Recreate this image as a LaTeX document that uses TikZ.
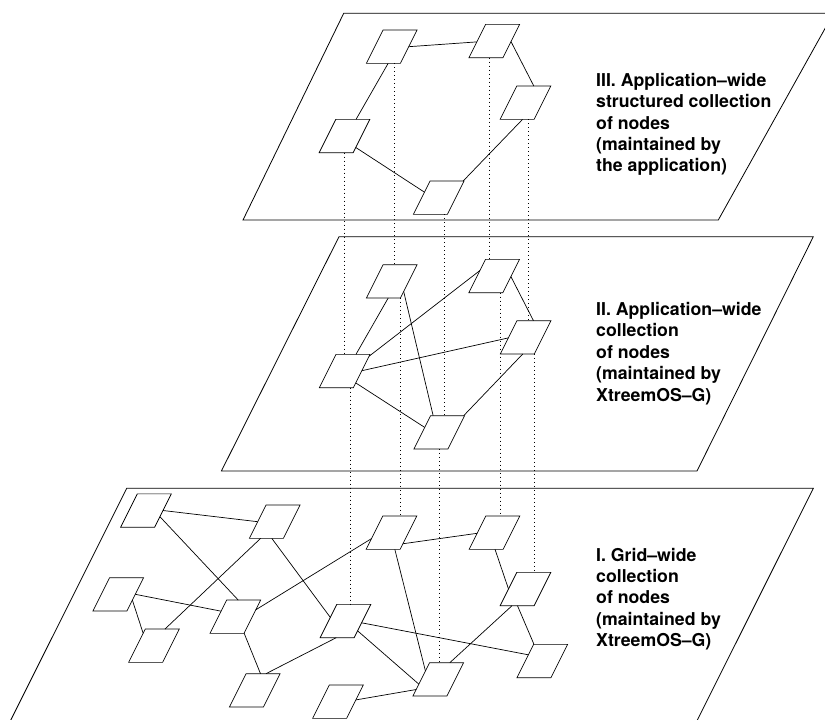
\documentclass[tikz,border=0pt]{standalone}
\usepackage{fontspec}
\setmainfont{TeX Gyre Heros}
\begin{document}
\begin{tikzpicture}[x=1pt,y=-1pt,
  plane/.style={draw, line width=0.8pt, line join=miter},
  gnode/.style={draw, line width=0.7pt, xslant=0.5, minimum width=34pt, minimum height=33.3pt, inner sep=0pt, outer sep=0pt},
  edge/.style={line width=0.7pt},
  vdot/.style={line width=0.7pt, dash pattern=on 0.7pt off 3.3pt},
  lbl/.style={anchor=west, align=left, font=\bfseries\fontsize{17.7}{21.4}\selectfont, inner sep=0pt}]
\useasboundingbox (0,0) rectangle (825,720);

% planes
\draw[plane] (243,220) -- (718.3,220) -- (833.5,13.3) -- (343.7,13.3) -- cycle;
\draw[plane] (221.4,471) -- (697,471) -- (813.3,236.7) -- (339,236.7) -- cycle;
\draw[plane] (8.8,724) -- (126.7,488.3) -- (813.3,488.3) -- (695.4,724);

% plane III nodes
\node[gnode] (a3) at (391.7,46.7) {};
\node[gnode] (b3) at (494.3,41) {};
\node[gnode] (c3) at (525.5,102.7) {};
\node[gnode] (d3) at (344.5,136) {};
\node[gnode] (e3) at (438.7,197.7) {};
% plane II nodes
\node[gnode] (a2) at (391.8,281.3) {};
\node[gnode] (b2) at (494.2,276) {};
\node[gnode] (c2) at (525.7,337.3) {};
\node[gnode] (d2) at (344.7,371) {};
\node[gnode] (e2) at (439.3,432.3) {};
% plane I nodes
\node[gnode] (n1) at (146,510.5) {};
\node[gnode] (n2) at (274.7,521.7) {};
\node[gnode] (n3) at (118.3,594.3) {};
\node[gnode] (n4) at (154,645.7) {};
\node[gnode] (n5) at (235.3,616.7) {};
\node[gnode] (n6) at (345.5,621) {};
\node[gnode] (n7) at (254.8,690.3) {};
\node[gnode] (n8) at (338,701.7) {};
\node[gnode] (n9) at (391.5,532.7) {};
\node[gnode] (n10) at (494.5,532.7) {};
\node[gnode] (n11) at (525.5,589) {};
\node[gnode] (n12) at (542.3,661) {};
\node[gnode] (n13) at (438.3,679.3) {};

% edges plane III
\draw[edge] (a3.0) -- (b3.183);
\draw[edge] (b3.-2) -- (c3.90);
\draw[edge] (c3.-72) -- (e3.46);
\draw[edge] (e3.162) -- (d3.-34);
\draw[edge] (d3.79) -- (a3.-74);
% edges plane II
\draw[edge] (a2.-74) -- (d2.80);
\draw[edge] (d2.41) -- (b2.162);
\draw[edge] (d2.1) -- (c2.182);
\draw[edge] (d2.-35) -- (e2.164);
\draw[edge] (a2.-31) -- (e2.131);
\draw[edge] (b2.-2) -- (c2.92);
\draw[edge] (c2.-72) -- (e2.46);
% edges plane I
\draw[edge] (n1.0) -- (n2.180);
\draw[edge] (n1.-20) -- (n5.108);
\draw[edge] (n2.251) -- (n4.81);
\draw[edge] (n2.-72) -- (n6.168);
\draw[edge] (n3.0) -- (n5.162);
\draw[edge] (n3.-19) -- (n4.144);
\draw[edge] (n5.22) -- (n9.199);
\draw[edge] (n5.-44) -- (n7.99);
\draw[edge] (n7.80) -- (n6.267);
\draw[edge] (n6.-6) -- (n12.160);
\draw[edge] (n6.-30) -- (n13.196);
\draw[edge] (n8.6) -- (n13.211);
\draw[edge] (n9.-33) -- (n10.182);
\draw[edge] (n9.-55) -- (n13.154);
\draw[edge] (n10.-62) -- (n11.180);
\draw[edge] (n11.-107) -- (n13.79);
\draw[edge] (n11.-89) -- (n12.135);

% vertical dotted links
\coordinate (vd1) at (344.3,0);
\coordinate (vd2) at (350,0);
\coordinate (va1) at (394.3,0);
\coordinate (va2) at (400,0);
\coordinate (ve1) at (444.3,0);
\coordinate (ve2) at (439.3,0);
\coordinate (vb1) at (489.3,0);
\coordinate (vb2) at (500.7,0);
\coordinate (vc1) at (528.3,0);
\coordinate (vc2) at (534,0);
\draw[vdot] (d3.south -| vd1) -- (d2.north -| vd1);
\draw[vdot] (d2.south -| vd2) -- (n6.north -| vd2);
\draw[vdot] (a3.south -| va1) -- (a2.north -| va1);
\draw[vdot] (a2.south -| va2) -- (n9.north -| va2);
\draw[vdot] (e3.south -| ve1) -- (e2.north -| ve1);
\draw[vdot] (e2.south -| ve2) -- (n13.north -| ve2);
\draw[vdot] (b3.south -| vb1) -- (b2.north -| vb1);
\draw[vdot] (b2.south -| vb2) -- (n10.north -| vb2);
\draw[vdot] (c3.south -| vc1) -- (c2.north -| vc1);
\draw[vdot] (c2.south -| vc2) -- (n11.north -| vc2);

% labels
\node[lbl] (t3) at (596,124.5) {III. Application–wide\\structured collection\\of nodes\\(maintained by\\the application)};
\node[lbl] (t2) at (596,353.5) {II. Application–wide\\collection\\of nodes\\(maintained by\\XtreemOS–G)};
\node[lbl] (t1) at (596,599) {I. Grid–wide\\collection\\of nodes\\(maintained by\\XtreemOS–G)};
\end{tikzpicture}
\end{document}
